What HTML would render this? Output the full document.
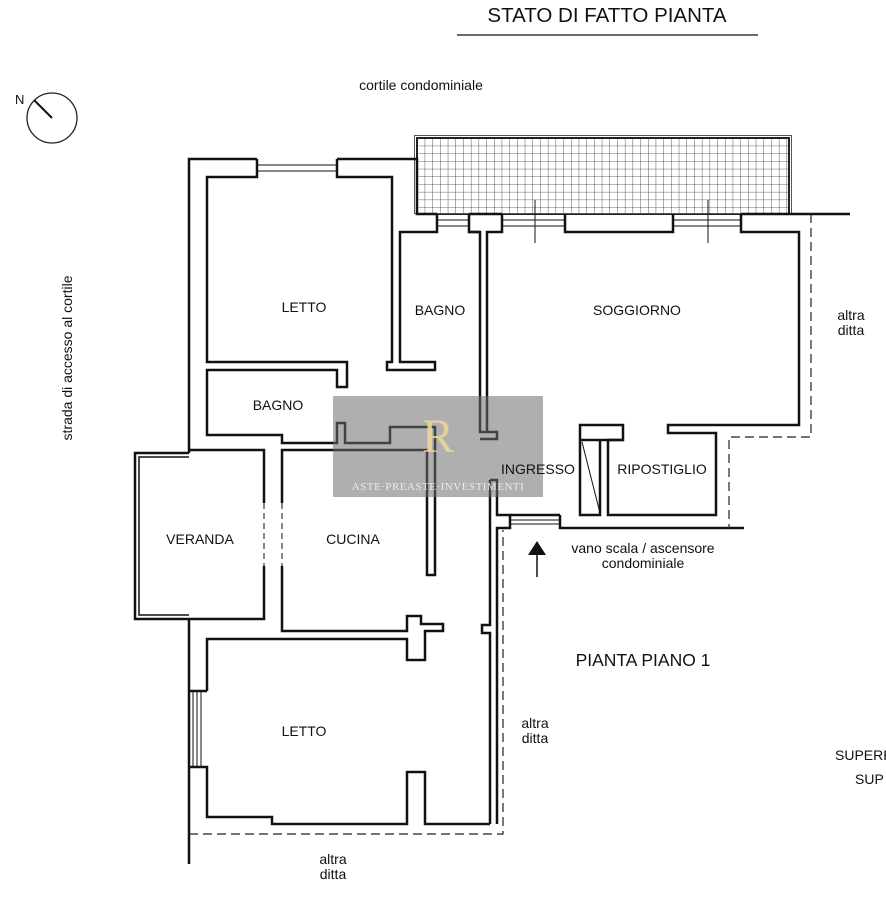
<!DOCTYPE html>
<html><head><meta charset="utf-8"><style>
html,body{margin:0;padding:0;background:#fff;}
svg{display:block;}
text{font-family:"Liberation Sans",Arial,sans-serif;fill:#111;}
</style></head><body>
<svg width="886" height="900" viewBox="0 0 886 900" xmlns="http://www.w3.org/2000/svg">
<defs>
<pattern id="grid" x="417" y="138" width="7.7" height="7.7" patternUnits="userSpaceOnUse">
<path d="M0 0H7.7M0 0V7.7" stroke="#333" stroke-width="0.8" fill="none"/>
</pattern>
</defs>
<!-- title -->
<text x="607" y="22" font-size="20.5" text-anchor="middle">STATO DI FATTO PIANTA</text>
<line x1="457" y1="35" x2="758" y2="35" stroke="#111" stroke-width="1.2"/>
<text x="421" y="90" font-size="14" text-anchor="middle">cortile condominiale</text>
<!-- compass -->
<circle cx="52" cy="118" r="25" fill="none" stroke="#222" stroke-width="1.3"/>
<line x1="34" y1="100" x2="52" y2="118" stroke="#111" stroke-width="2"/>
<text x="15" y="104" font-size="13">N</text>
<text transform="translate(72,358) rotate(-90)" font-size="14" text-anchor="middle">strada di accesso al cortile</text>

<!-- terrace -->
<rect x="417" y="138" width="372" height="76" fill="url(#grid)" stroke="#222" stroke-width="2"/>
<rect x="414.5" y="135.5" width="377" height="78" fill="none" stroke="#555" stroke-width="1"/>

<g fill="none" stroke="#111" stroke-width="2.5" stroke-linejoin="miter">
<path d="M189 453 V159 H257 M337 159 H417 V214 H437 M469 214 H502 M565 214 V232 H673 V214 M741 214 H850"/>
<path d="M189 619 V864"/>
<path d="M257 159 V177 H207 V362 H347 V387 H337 V370 H207 V435 H282 V443 H337 V423 H345 V443 H390 V427 H435 V575 H427 V450 H282 V503"/>
<path d="M337 159 V177 H392 V362 H387 V370 H435 V362 H400 V232 H437 V214"/>
<path d="M257 165 H337 M257 171 H337" stroke-width="1"/>
<path d="M437 220 H469 M437 226 H469 M502 220 H565 M502 226 H565 M673 220 H741 M673 226 H741" stroke-width="1"/>
<path d="M535 200 V243 M708 200 V243" stroke-width="1"/>
<path d="M469 214 V232 H480 V432 H497 V439 H480 M502 214 V232 H487 V432"/>
<path d="M469 232 H480"/>
<path d="M741 214 V232 H799 V425 H668 V433 H716 V515 H608 V440 H623 V425 H580 V515 H600 V440"/>
<path d="M580 440 H623"/>
<path d="M582 442 L600 513" stroke-width="1"/>
<!-- ingresso / right wall letto2 -->
<path d="M490 480 V625 H482 V633 H490 V824"/>
<path d="M490 480 H497 V515 H510 V528 H497 V824"/>
<path d="M560 515 V528 H744 M560 515 H510"/>
<path d="M510 520 H560 M510 524 H560" stroke-width="1"/>
<!-- veranda -->
<path d="M189 453 H135 V619 H189"/>
<path d="M189 457 H139 V615 H189" stroke-width="1.5"/>
<path d="M189 450 H264 V503 M264 566 V619 H189"/>
<path d="M282 566 V631 H407 V616 H421 V624 H443 V631 H425 V660 H407 V639 H207 V691"/>
<path d="M264 503 V566 M282 503 V566" stroke-width="1" stroke-dasharray="6,4"/>
<!-- letto 2 -->
<path d="M189 691 H207 M189 767 H207 V817 H272 V824 H407 V772 H425 V824 H490"/>
<path d="M193 691 V767 M197 691 V767 M201 691 V767" stroke-width="1"/>
</g>
<g fill="none" stroke="#222" stroke-width="1.2" stroke-dasharray="9,5">
<path d="M189 834 H503 V530"/>
<path d="M811 214 V437 H729 V528"/>
</g>
<line x1="537" y1="548" x2="537" y2="577" stroke="#111" stroke-width="1.5"/>
<polygon points="528,555 546,555 537,541" fill="#111"/>
<!-- watermark -->
<rect x="333" y="396" width="210" height="101" fill="rgba(110,110,110,0.55)"/>
<text x="438" y="452" font-size="48" text-anchor="middle" style="font-family:'Liberation Serif',serif;fill:rgba(240,215,150,0.85)">R</text>
<text x="438" y="490" font-size="11" text-anchor="middle" style="font-family:'Liberation Serif',serif;fill:rgba(255,255,255,0.75);letter-spacing:0.5px">ASTE·PREASTE·INVESTIMENTI</text>

<g font-size="14" text-anchor="middle">
<text x="304" y="312">LETTO</text>
<text x="440" y="315">BAGNO</text>
<text x="637" y="315">SOGGIORNO</text>
<text x="278" y="410">BAGNO</text>
<text x="538" y="474">INGRESSO</text>
<text x="662" y="474">RIPOSTIGLIO</text>
<text x="200" y="544">VERANDA</text>
<text x="353" y="544">CUCINA</text>
<text x="304" y="736">LETTO</text>
<text x="851" y="320">altra</text>
<text x="851" y="335">ditta</text>
<text x="643" y="553">vano scala / ascensore</text>
<text x="643" y="568">condominiale</text>
<text x="535" y="728">altra</text>
<text x="535" y="743">ditta</text>
<text x="333" y="864">altra</text>
<text x="333" y="879">ditta</text>
</g>
<text x="643" y="666" font-size="17.5" text-anchor="middle">PIANTA PIANO 1</text>
<text x="835" y="760" font-size="14">SUPERF</text>
<text x="855" y="784" font-size="14">SUP</text>
</svg>
</body></html>
